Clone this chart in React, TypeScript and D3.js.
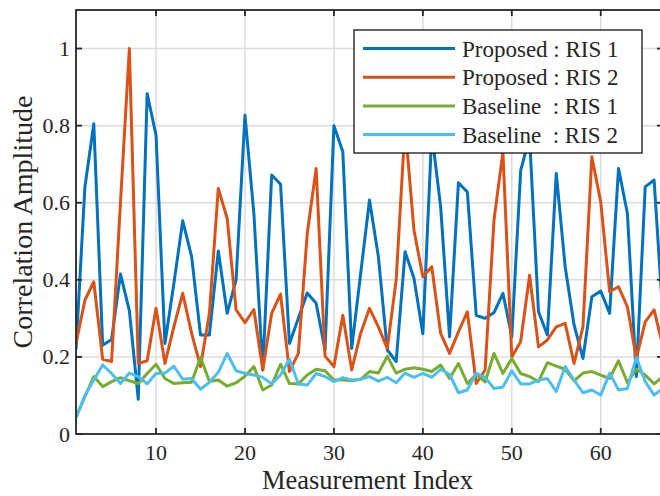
import React from 'react';
import * as d3 from 'd3';

// measurement index 1..67
const indices = d3.range(1, 68);

const proposedRis1 = [
  0.22, 0.64, 0.805, 0.23, 0.245, 0.415, 0.32, 0.09, 0.883, 0.775,
  0.235, 0.39, 0.553, 0.46, 0.257, 0.257, 0.475, 0.313, 0.4, 0.827,
  0.572, 0.166, 0.672, 0.648, 0.235, 0.3, 0.366, 0.339, 0.218, 0.8,
  0.732, 0.222, 0.415, 0.607, 0.46, 0.218, 0.188, 0.473, 0.404, 0.26,
  0.78, 0.59, 0.252, 0.652, 0.628, 0.308, 0.3, 0.315, 0.365, 0.252,
  0.684, 0.77, 0.317, 0.257, 0.676, 0.434, 0.283, 0.196, 0.356, 0.371,
  0.313, 0.689, 0.572, 0.149, 0.641, 0.659, 0.3,
];

const proposedRis2 = [
  0.235, 0.347, 0.395, 0.194, 0.188, 0.6, 1.0, 0.183, 0.19, 0.326,
  0.183, 0.278, 0.365, 0.261, 0.175, 0.313, 0.637, 0.559, 0.322, 0.289,
  0.323, 0.166, 0.313, 0.363, 0.162, 0.209, 0.52, 0.689, 0.202, 0.175,
  0.308, 0.166, 0.261, 0.326, 0.278, 0.222, 0.4, 0.8, 0.529, 0.408,
  0.434, 0.261, 0.209, 0.265, 0.317, 0.131, 0.166, 0.555, 0.732, 0.2,
  0.24, 0.412, 0.226, 0.244, 0.278, 0.287, 0.183, 0.278, 0.719, 0.602,
  0.369, 0.382, 0.33, 0.196, 0.291, 0.322, 0.226,
];

const baselineRis1 = [
  0.043, 0.097, 0.149, 0.123, 0.136, 0.146, 0.138, 0.131, 0.157, 0.181,
  0.144, 0.131, 0.133, 0.134, 0.199, 0.136, 0.14, 0.124, 0.133, 0.15,
  0.175, 0.114, 0.127, 0.181, 0.131, 0.13, 0.153, 0.168, 0.164, 0.14,
  0.14, 0.138, 0.142, 0.162, 0.158, 0.202, 0.158, 0.168, 0.172, 0.168,
  0.162, 0.179, 0.144, 0.183, 0.131, 0.155, 0.135, 0.209, 0.157, 0.196,
  0.157, 0.149, 0.136, 0.185, 0.176, 0.168, 0.138, 0.158, 0.162, 0.153,
  0.144, 0.19, 0.133, 0.168, 0.153, 0.13, 0.149,
];

const baselineRis2 = [
  0.043, 0.1, 0.14, 0.179, 0.157, 0.131, 0.158, 0.149, 0.13, 0.157,
  0.158, 0.176, 0.142, 0.144, 0.116, 0.134, 0.16, 0.209, 0.164, 0.157,
  0.153, 0.147, 0.13, 0.153, 0.194, 0.13, 0.127, 0.157, 0.149, 0.136,
  0.146, 0.14, 0.142, 0.149, 0.137, 0.147, 0.133, 0.158, 0.147, 0.157,
  0.147, 0.168, 0.155, 0.107, 0.114, 0.158, 0.147, 0.118, 0.122, 0.164,
  0.13, 0.13, 0.14, 0.144, 0.11, 0.175, 0.14, 0.107, 0.114, 0.101,
  0.158, 0.114, 0.118, 0.199, 0.136, 0.101, 0.118,
];

const seriesNames = ['Proposed : RIS 1', 'Proposed : RIS 2', 'Baseline  : RIS 1', 'Baseline  : RIS 2'];
const seriesColors = ['#0072BD', '#D95319', '#77AC30', '#4DBEEE'];
const xTicks = [10, 20, 30, 40, 50, 60];
const yTicks = [0, 0.2, 0.4, 0.6, 0.8, 1];

const W = 660;
const H = 496;
const plot = { left: 76, right: 663, top: 10, bottom: 434 };
const font = '"Liberation Serif", "Times New Roman", serif';
const ink = '#262626';

export default function App() {
  const x = d3.scaleLinear().domain([1, 67]).range([plot.left, plot.right]);
  const y = d3.scaleLinear().domain([0, 1.1]).range([plot.bottom, plot.top]);
  const all = [proposedRis1, proposedRis2, baselineRis1, baselineRis2];
  const line = d3.line<number>()
    .x((_, i) => x(indices[i]))
    .y(d => y(d));

  return (
    <svg width={W} height={H} style={{ position: 'absolute', left: 0, top: 0, background: '#fff' }}
      fontFamily={font}>
      <defs>
        <clipPath id="plotClip">
          <rect x={plot.left} y={plot.top} width={plot.right - plot.left} height={plot.bottom - plot.top} />
        </clipPath>
      </defs>
      <rect x={0} y={0} width={W} height={H} fill="#fff" />

      {/* grid */}
      {xTicks.map(t => (
        <line key={'gx' + t} x1={x(t)} x2={x(t)} y1={plot.top} y2={plot.bottom} stroke="#dcdcdc" strokeWidth={1.5} />
      ))}
      {yTicks.filter(t => t > 0).map(t => (
        <line key={'gy' + t} x1={plot.left} x2={plot.right} y1={y(t)} y2={y(t)} stroke="#dcdcdc" strokeWidth={1.5} />
      ))}

      {/* data */}
      <g clipPath="url(#plotClip)">
        {all.map((vals, k) => (
          <path key={k} d={line(vals) || ''} fill="none" stroke={seriesColors[k]} strokeWidth={3}
            strokeLinejoin="round" />
        ))}
      </g>

      {/* box + ticks */}
      <rect x={plot.left} y={plot.top} width={plot.right - plot.left} height={plot.bottom - plot.top}
        fill="none" stroke={ink} strokeWidth={1.8} />
      {xTicks.map(t => (
        <g key={'tx' + t}>
          <line x1={x(t)} x2={x(t)} y1={plot.bottom} y2={plot.bottom - 6} stroke={ink} strokeWidth={1.8} />
          <line x1={x(t)} x2={x(t)} y1={plot.top} y2={plot.top + 6} stroke={ink} strokeWidth={1.8} />
          <text x={x(t)} y={plot.bottom + 26} textAnchor="middle" fontSize={22} fill={ink}>{t}</text>
        </g>
      ))}
      {yTicks.map(t => (
        <g key={'ty' + t}>
          <line x1={plot.left} x2={plot.left + 6} y1={y(t)} y2={y(t)} stroke={ink} strokeWidth={1.8} />
          <line x1={plot.right} x2={plot.right - 6} y1={y(t)} y2={y(t)} stroke={ink} strokeWidth={1.8} />
          <text x={plot.left - 6} y={y(t) + 7.5} textAnchor="end" fontSize={22} fill={ink}>{t}</text>
        </g>
      ))}

      {/* axis titles */}
      <text x={(plot.left + plot.right) / 2 - 2} y={489} textAnchor="middle" fontSize={26.5} fill={ink}>
        Measurement Index
      </text>
      <text transform={`translate(32, ${(plot.top + plot.bottom) / 2}) rotate(-90)`} textAnchor="middle"
        fontSize={28} fill={ink}>
        Correlation Amplitude
      </text>

      {/* legend */}
      <g>
        <rect x={354} y={30} width={288} height={123} fill="#fff" stroke="#000" strokeWidth={1.2} />
        {seriesNames.map((name, k) => {
          const ry = 48.5 + k * 28.7;
          return (
            <g key={name}>
              <line x1={363} x2={455} y1={ry} y2={ry} stroke={seriesColors[k]} strokeWidth={3} />
              <text x={462} y={ry + 8} fontSize={23} fill={ink} style={{ whiteSpace: 'pre' }}>{name}</text>
            </g>
          );
        })}
      </g>
    </svg>
  );
}
